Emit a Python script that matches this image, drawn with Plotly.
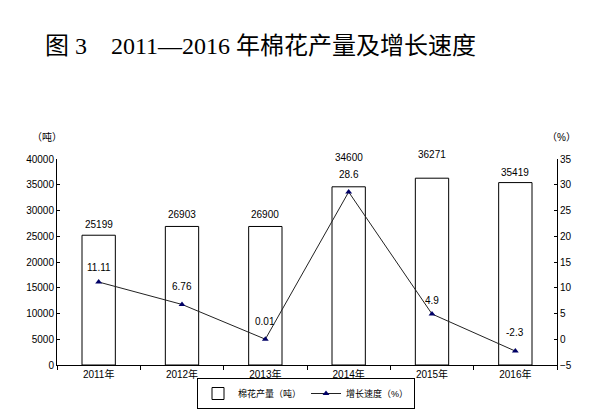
import plotly.graph_objects as go

years = ["2011年", "2012年", "2013年", "2014年", "2015年", "2016年"]
output_tons = [25199, 26903, 26900, 34600, 36271, 35419]
growth_pct = [11.11, 6.76, 0.01, 28.6, 4.9, -2.3]
growth_labels = ["11.11", "6.76", "0.01", "28.6", "4.9", "-2.3"]

# label placement (pixels above the mark), styling only
bar_label_shift = [11, 12, 12, 29, 24, 10]
line_label_shift = [15, 18, 18, 17, 14, 19]

W, H = 600, 412
L, R, T, B = 57, 43, 159, 47

sans = "Liberation Sans, Arial, Noto Sans CJK SC"
fig = go.Figure()
fig.add_trace(go.Bar(
    x=years, y=output_tons, name="棉花产量（吨）",
    marker=dict(color="white", line=dict(color="black", width=1)),
    width=0.4,
))
fig.add_trace(go.Scatter(
    x=years, y=growth_pct, name="增长速度（%）", yaxis="y2",
    mode="lines+markers",
    line=dict(color="#222222", width=1),
    marker=dict(symbol="triangle-up", size=6, color="#000066"),
    cliponaxis=False,
))

annotations = []
for yr, v, s in zip(years, output_tons, bar_label_shift):
    annotations.append(dict(x=yr, y=v, xref="x", yref="y", text=str(v),
                            showarrow=False, yanchor="middle", yshift=s,
                            font=dict(family=sans, size=10, color="black")))
for yr, v, t, s in zip(years, growth_pct, growth_labels, line_label_shift):
    annotations.append(dict(x=yr, y=v, xref="x", yref="y2", text=t,
                            showarrow=False, yanchor="middle", yshift=s,
                            font=dict(family=sans, size=10, color="black")))
annotations += [
    dict(text="（吨）", xref="paper", yref="paper",
         x=(47 - L) / (W - L - R), y=(H - B - 137) / (H - T - B),
         showarrow=False, xanchor="center", yanchor="middle",
         font=dict(family=sans, size=10, color="black")),
    dict(text="（%）", xref="paper", yref="paper",
         x=(561 - L) / (W - L - R), y=(H - B - 137) / (H - T - B),
         showarrow=False, xanchor="center", yanchor="middle",
         font=dict(family=sans, size=10, color="black")),
]

fig.update_layout(
    width=W, height=H,
    margin=dict(l=L, r=R, t=T, b=B, autoexpand=False),
    paper_bgcolor="white", plot_bgcolor="white",
    showlegend=True,
    legend=dict(orientation="h", x=0.51, xanchor="center", xref="container",
                y=3 / H, yanchor="bottom", yref="container",
                bordercolor="black", borderwidth=1,
                font=dict(family=sans, size=9, color="black"),
                itemwidth=30, tracegroupgap=0, traceorder="normal"),
    xaxis=dict(
        type="category", showline=True, linecolor="black", linewidth=1,
        ticks="outside", ticklen=4, tickcolor="black", tickson="boundaries",
        tickfont=dict(family=sans, size=10, color="black"),
        showgrid=False, zeroline=False,
    ),
    yaxis=dict(
        range=[0, 40000], dtick=5000, tickformat="d",
        showline=True, linecolor="black", linewidth=1,
        ticks="inside", ticklen=3, tickcolor="black",
        tickfont=dict(family=sans, size=10, color="black"),
        showgrid=False, zeroline=False,
    ),
    yaxis2=dict(
        range=[-5, 35], dtick=5, overlaying="y", side="right",
        showline=True, linecolor="black", linewidth=1,
        ticks="inside", ticklen=3, tickcolor="black",
        tickfont=dict(family=sans, size=10, color="black"),
        showgrid=False, zeroline=False,
    ),
    title=dict(
        text="图 3　2011—2016 年棉花产量及增长速度",
        x=45 / W, xanchor="left", xref="container",
        y=1 - 46 / H, yanchor="middle", yref="container",
        font=dict(family="Liberation Serif, Noto Sans CJK SC", size=24, color="black"),
    ),
    annotations=annotations,
)

fig.write_html("out.html")
